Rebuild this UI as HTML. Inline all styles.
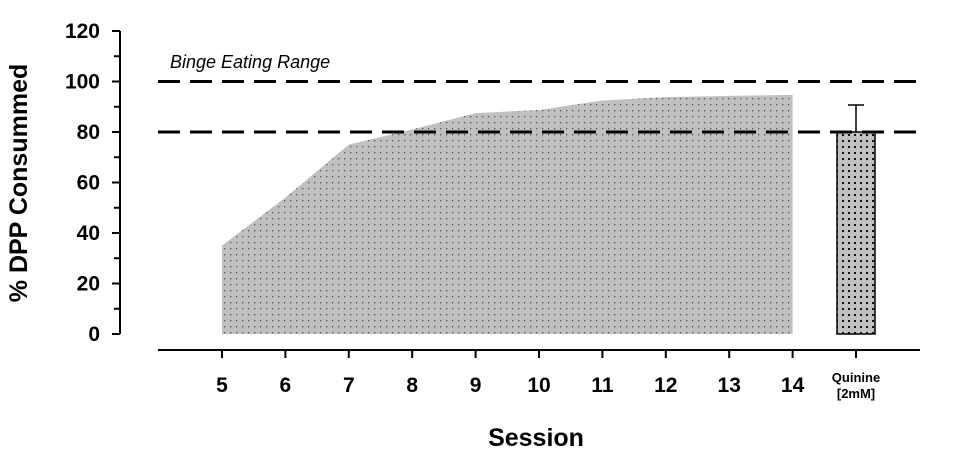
<!DOCTYPE html>
<html><head><meta charset="utf-8"><style>
body{margin:0;background:#fff;font-family:"Liberation Sans",Arial,sans-serif}
</style></head><body>
<svg id="chart" width="961" height="458" xmlns="http://www.w3.org/2000/svg">
<defs>
<pattern id="dots" width="6" height="6" patternUnits="userSpaceOnUse"><rect width="6" height="6" fill="#c0c0c0"/><rect x="2" y="2" width="1.3" height="1.3" fill="#555"/></pattern>
<pattern id="dots2" width="6" height="6" patternUnits="userSpaceOnUse"><rect width="6" height="6" fill="#c0c0c0"/><rect x="2" y="2" width="2" height="2" fill="#111"/></pattern>
</defs>
<g id="g"></g>
</svg>
<script>
const sessions=[5,6,7,8,9,10,11,12,13,14];
const consumed=[35,54,75,81,87.5,88.7,92.5,93.8,94.3,94.7];
const quinineValue=[80];
const quinineError=[10.7];
const yTicks=[0,20,40,60,80,100,120];
const rangeLines=[80,100];
const NS="http://www.w3.org/2000/svg";
const g=document.getElementById('g');
const y=v=>334-v*(303/120);
const x=s=>222+(s-5)*63.4;
const qx=856;
function el(t,a,txt){const e=document.createElementNS(NS,t);for(const k in a)e.setAttribute(k,a[k]);if(txt!==undefined)e.textContent=txt;g.appendChild(e);return e;}
// area
let d='M'+x(sessions[0])+','+y(0);
sessions.forEach((s,i)=>{d+=' L'+x(s)+','+y(consumed[i]);});
d+=' L'+x(sessions[sessions.length-1])+','+y(0)+' Z';
let a=el('path',{d:d,fill:'url(#dots)'});


// quinine bar
let b=el('rect',{x:qx-19,y:y(quinineValue[0]),width:38,height:y(0)-y(quinineValue[0]),fill:'url(#dots2)',stroke:'#000','stroke-width':1.5});


let eb=el('path',{d:`M${qx},${y(quinineValue[0])} V${y(quinineValue[0]+quinineError[0])} M${qx-8},${y(quinineValue[0]+quinineError[0])} H${qx+8}`,stroke:'#000','stroke-width':1.5,fill:'none'});


// range lines
rangeLines.forEach(v=>{let l=el('line',{x1:158,x2:925,y1:y(v),y2:y(v),stroke:'#000','stroke-width':3,'stroke-dasharray':'22,10'});

});
let bt=el('text',{x:170,y:68,'font-size':18,'font-style':'italic',fill:'#000'},'Binge Eating Range');


// y axis
let ya=el('line',{x1:120,x2:120,y1:y(120),y2:y(0),stroke:'#000','stroke-width':2});


for(let v=0;v<=120;v+=10){el('line',{x1:v%20==0?112:114,x2:120,y1:y(v),y2:y(v),stroke:'#000','stroke-width':2});}
yTicks.forEach(v=>{let t=el('text',{x:100,y:y(v)+7,'font-size':21,'font-weight':'bold','text-anchor':'end'},String(v));

});
let yt=el('text',{x:0,y:0,'font-size':25,'font-weight':'bold','text-anchor':'middle',transform:'translate(27,183) rotate(-90)'},'% DPP Consummed');


// x axis
let xa=el('line',{x1:158,x2:920,y1:350,y2:350,stroke:'#000','stroke-width':2});


sessions.forEach(s=>{el('line',{x1:x(s),x2:x(s),y1:350,y2:358,stroke:'#000','stroke-width':2});
let t=el('text',{x:x(s),y:392,'font-size':21,'font-weight':'bold','text-anchor':'middle'},String(s));

});
el('line',{x1:qx,x2:qx,y1:350,y2:358,stroke:'#000','stroke-width':2});
let q1=el('text',{x:qx,y:382,'font-size':13,'font-weight':'bold','text-anchor':'middle'},'Quinine');


let q2=el('text',{x:qx,y:398,'font-size':13,'font-weight':'bold','text-anchor':'middle'},'[2mM]');


let xt=el('text',{x:536,y:446,'font-size':25,'font-weight':'bold','text-anchor':'middle'},'Session');


</script>
</body></html>
